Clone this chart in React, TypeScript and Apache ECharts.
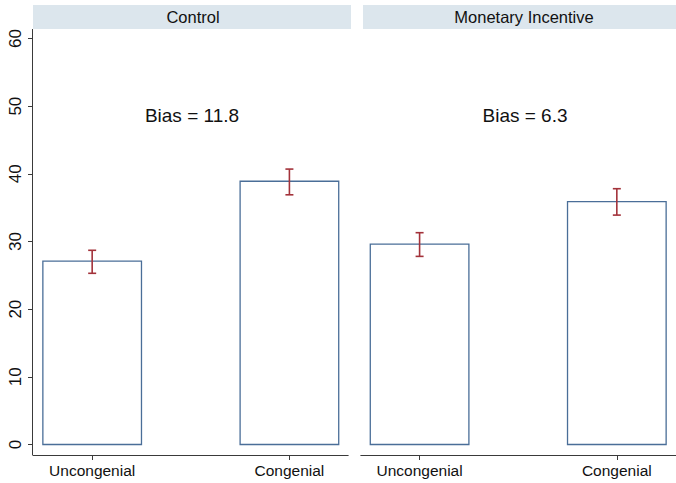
import React, { useEffect, useRef } from "react";
import * as echarts from "echarts";

const panels = ["Control", "Monetary Incentive"];
const categories = ["Uncongenial", "Congenial"];
const controlMeans = [27.1, 38.9];
const controlLow = [25.3, 36.9];
const controlHigh = [28.7, 40.7];
const incentiveMeans = [29.6, 35.9];
const incentiveLow = [27.8, 33.9];
const incentiveHigh = [31.3, 37.8];
const biasLabels = ["Bias = 11.8", "Bias = 6.3"];
const yTicks = [0, 10, 20, 30, 40, 50, 60];
const xPositions = [0, 1];

const FONT = "'Liberation Sans', Arial, Helvetica, sans-serif";
const BAR_COLOR = "#4a6e98";
const ERR_COLOR = "#a3323a";
const AXIS_COLOR = "#3a3a3a";
const Y_MIN = -1.55;
const Y_MAX = 61.4;
// one shared x scale: each panel spans 1.6 units, panels separated by a small gap
const PANEL_SPAN = 1.6;
const PANEL_SHIFT = 1.66;
const X_MIN = -0.3;
const X_MAX = X_MIN + PANEL_SHIFT + PANEL_SPAN;

const allX: number[] = [];
[0, 1].forEach((p) => xPositions.forEach((x) => allX.push(x + p * PANEL_SHIFT)));

function barRender(params: any, api: any) {
  const x = api.value(0);
  const y = api.value(1);
  const p0 = api.coord([x - 0.25, y]);
  const p1 = api.coord([x + 0.25, 0]);
  return {
    type: "rect",
    shape: { x: p0[0], y: p0[1], width: p1[0] - p0[0], height: p1[1] - p0[1] },
    style: { fill: "#fff", stroke: BAR_COLOR, lineWidth: 1.3 },
  };
}

function errRender(params: any, api: any) {
  const x = api.value(0);
  const lo = api.coord([x, api.value(1)]);
  const hi = api.coord([x, api.value(2)]);
  const cap = 4;
  const style = { stroke: ERR_COLOR, lineWidth: 1.6 };
  return {
    type: "group",
    children: [
      { type: "line", shape: { x1: lo[0], y1: lo[1], x2: hi[0], y2: hi[1] }, style },
      { type: "line", shape: { x1: lo[0] - cap, y1: lo[1], x2: lo[0] + cap, y2: lo[1] }, style },
      { type: "line", shape: { x1: hi[0] - cap, y1: hi[1], x2: hi[0] + cap, y2: hi[1] }, style },
    ],
  };
}

// panel frame (bottom axis line, and left axis line for first panel)
function frameRender(params: any, api: any) {
  const p = api.value(0);
  const start = X_MIN + p * PANEL_SHIFT;
  const style = { stroke: AXIS_COLOR, lineWidth: 1 };
  const bl = api.coord([start, Y_MIN]);
  const br = api.coord([start + PANEL_SPAN, Y_MIN]);
  const tl = api.coord([start, Y_MAX]);
  const children: any[] = [
    { type: "line", shape: { x1: bl[0], y1: bl[1] + 0.5, x2: br[0], y2: br[1] + 0.5 }, style },
  ];
  if (p === 0) {
    children.push({ type: "line", shape: { x1: bl[0] - 0.5, y1: bl[1] + 0.5, x2: tl[0] - 0.5, y2: tl[1] }, style });
  }
  return { type: "group", children };
}

export default function App() {
  const ref = useRef<HTMLDivElement>(null);
  useEffect(() => {
    document.body.style.margin = "0";
    const chart = echarts.init(ref.current!, undefined, { renderer: "svg" });
    const groups = [
      [controlMeans, controlLow, controlHigh],
      [incentiveMeans, incentiveLow, incentiveHigh],
    ];
    const barData: number[][] = [];
    const errData: number[][] = [];
    groups.forEach(([m, lo, hi], p) => {
      xPositions.forEach((x, j) => {
        barData.push([x + p * PANEL_SHIFT, m[j]]);
        errData.push([x + p * PANEL_SHIFT, lo[j], hi[j]]);
      });
    });
    chart.setOption({
      animation: false,
      backgroundColor: "#fff",
      grid: { left: 33, top: 29, width: 318 * (X_MAX - X_MIN) / PANEL_SPAN, height: 426, show: false },
      xAxis: {
        type: "value",
        min: X_MIN,
        max: X_MAX,
        position: "bottom",
        splitLine: { show: false },
        axisLine: { show: false, onZero: false },
        axisTick: { show: true, length: 5, customValues: allX, lineStyle: { color: AXIS_COLOR } },
        axisLabel: {
          customValues: allX,
          formatter: (v: number) => {
            const idx = allX.findIndex((a) => Math.abs(a - v) < 1e-6);
            return categories[(idx < 0 ? 0 : idx) % 2];
          },
          color: "#111",
          fontFamily: FONT,
          fontSize: 15.5,
          margin: 7,
        },
      },
      yAxis: {
        type: "value",
        min: Y_MIN,
        max: Y_MAX,
        position: "left",
        splitLine: { show: false },
        axisLine: { show: false, onZero: false },
        axisTick: { show: true, length: 5, customValues: yTicks, lineStyle: { color: AXIS_COLOR } },
        axisLabel: {
          customValues: yTicks,
          rotate: 90,
          color: "#111",
          fontFamily: FONT,
          fontSize: 17,
          margin: 9,
        },
      },
      series: [
        {
          type: "custom",
          renderItem: frameRender,
          clip: false,
          data: [[0], [1]],
          silent: true,
          z: 4,
        },
        { type: "custom", renderItem: barRender, data: barData, silent: true },
        { type: "custom", renderItem: errRender, data: errData, silent: true, z: 3 },
      ],
      graphic: [
        { type: "rect", shape: { x: 33, y: 5, width: 318, height: 24 }, style: { fill: "#dce6ed" }, z: 0 },
        { type: "rect", shape: { x: 363, y: 5, width: 320, height: 24 }, style: { fill: "#dce6ed" }, z: 0 },
        {
          type: "text",
          x: 193,
          y: 17,
          style: { text: panels[0], fontSize: 16.5, fontFamily: FONT, fill: "#111", align: "center", verticalAlign: "middle" },
          z: 1,
        },
        {
          type: "text",
          x: 524,
          y: 17,
          style: { text: panels[1], fontSize: 16.5, fontFamily: FONT, fill: "#111", align: "center", verticalAlign: "middle" },
          z: 1,
        },
        {
          type: "text",
          x: 192,
          y: 115,
          style: { text: biasLabels[0], fontSize: 19, fontFamily: FONT, fill: "#111", align: "center", verticalAlign: "middle" },
          z: 1,
        },
        {
          type: "text",
          x: 525,
          y: 115,
          style: { text: biasLabels[1], fontSize: 19, fontFamily: FONT, fill: "#111", align: "center", verticalAlign: "middle" },
          z: 1,
        },
      ],
    });
    return () => chart.dispose();
  }, []);
  return <div ref={ref} style={{ position: "absolute", left: 0, top: 0, width: 676, height: 483 }} />;
}
